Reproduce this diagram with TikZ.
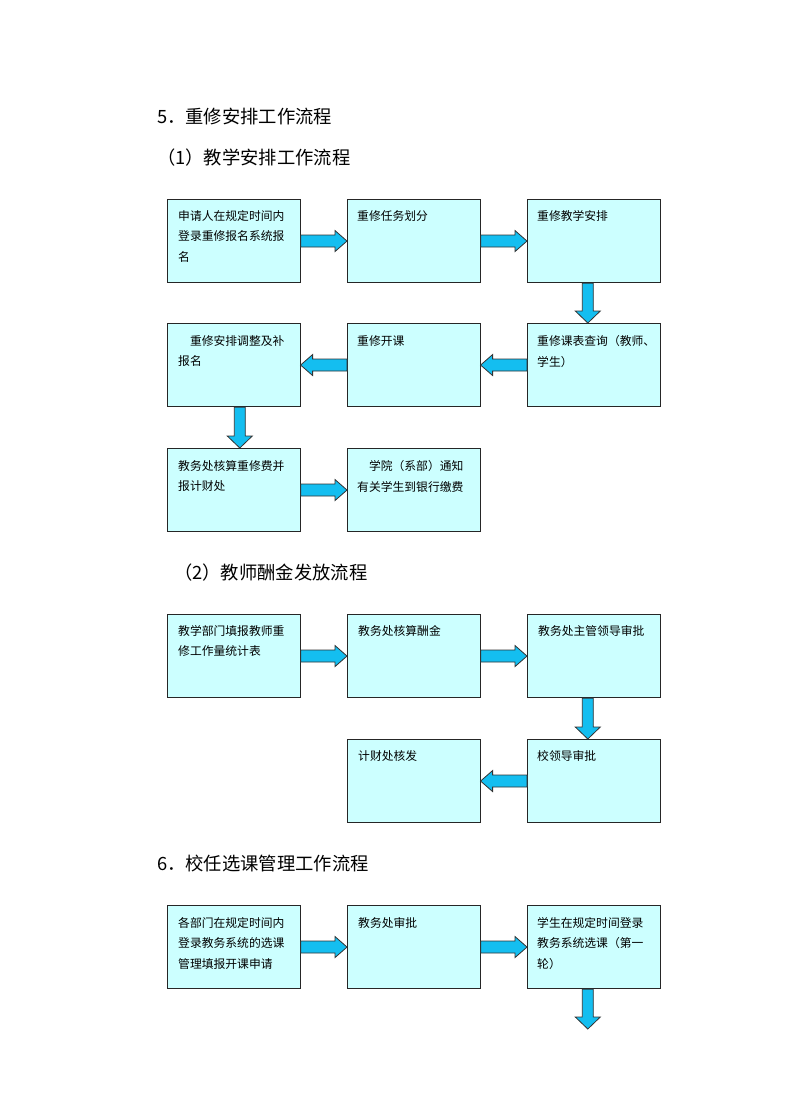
\documentclass[tikz,border=0pt]{standalone}
\usepackage{fontspec}
\newfontfamily\cjk{Noto Sans CJK SC}
\usetikzlibrary{calc}
\definecolor{boxfill}{RGB}{204,255,255}
\definecolor{arrfill}{RGB}{20,190,240}
\tikzset{
  box/.style={draw=black!85, line width=1.1pt, fill=boxfill, minimum width=132.5pt, minimum height=83pt, inner sep=0pt, anchor=north west},
  boxtxt/.style={anchor=north west, inner sep=0pt, align=left, font=\cjk\fontsize{11.8}{20.7}\selectfont},
  headtxt/.style={anchor=west, inner sep=0pt, font=\cjk\fontsize{18.3}{21}\selectfont},
  blk/.style={fill=arrfill, draw=black!80, line width=0.8pt, line join=miter},
}
\newcommand\blkright[2]{\path[blk] let \p1=(#1.east), \p2=(#2.west) in
  (\x1,\y1+6pt) -- (\x2-12pt,\y1+6pt) -- (\x2-12pt,\y1+10.5pt) -- (\x2,\y1) --
  (\x2-12pt,\y1-10.5pt) -- (\x2-12pt,\y1-6pt) -- (\x1,\y1-6pt) -- cycle;}
\newcommand\blkleft[2]{\path[blk] let \p1=(#1.west), \p2=(#2.east) in
  (\x1,\y1+6pt) -- (\x2+12pt,\y1+6pt) -- (\x2+12pt,\y1+10.5pt) -- (\x2,\y1) --
  (\x2+12pt,\y1-10.5pt) -- (\x2+12pt,\y1-6pt) -- (\x1,\y1-6pt) -- cycle;}
\newcommand\blkdown[3]{\path[blk] let \p1=(#1), \p2=(#2) in
  (\x1+#3-5.5pt,\y1) -- (\x1+#3-5.5pt,\y2+12pt) -- (\x1+#3-12.5pt,\y2+12pt) -- (\x1+#3,\y2) --
  (\x1+#3+12.5pt,\y2+12pt) -- (\x1+#3+5.5pt,\y2+12pt) -- (\x1+#3+5.5pt,\y1) -- cycle;}
\begin{document}
\begin{tikzpicture}[x=1pt,y=-1pt]
\useasboundingbox[fill=white] (0,0) rectangle (792,1120);
% headings
\node[headtxt] (h5) at (157,117) {5．重修安排工作流程};
\node[headtxt] (h51) at (157,158) {（1）教学安排工作流程};
\node[headtxt] (h52) at (174,573) {（2）教师酬金发放流程};
\node[headtxt] (h6) at (157,863) {6．校任选课管理工作流程};
% section 5 (1)
\node[box] (a1) at (167,199) {};
\node[box] (a2) at (347,199) {};
\node[box] (a3) at (527,199) {};
\node[box] (b1) at (167,323) {};
\node[box] (b2) at (347,323) {};
\node[box] (b3) at (527,323) {};
\node[box] (c1) at (167,448) {};
\node[box] (c2) at (347,448) {};
% section 5 (2)
\node[box] (d1) at (167,614) {};
\node[box] (d2) at (347,614) {};
\node[box] (d3) at (527,614) {};
\node[box] (e2) at (347,739) {};
\node[box] (e3) at (527,739) {};
% section 6
\node[box] (f1) at (167,905) {};
\node[box] (f2) at (347,905) {};
\node[box] (f3) at (527,905) {};
\coordinate (fend) at (587,1029);
% texts
\node[boxtxt] (a1t) at ($(a1.north west)+(11,11)$) {申请人在规定时间内\\登录重修报名系统报\\名};
\node[boxtxt] (a2t) at ($(a2.north west)+(10,11)$) {重修任务划分};
\node[boxtxt] (a3t) at ($(a3.north west)+(10,11)$) {重修教学安排};
\node[boxtxt] (b1t) at ($(b1.north west)+(11,12)$) {\hspace*{11.8pt}重修安排调整及补\\报名};
\node[boxtxt] (b2t) at ($(b2.north west)+(10,12)$) {重修开课};
\node[boxtxt] (b3t) at ($(b3.north west)+(10,12)$) {重修课表查询（教师、\\学生）};
\node[boxtxt] (c1t) at ($(c1.north west)+(11,12)$) {教务处核算重修费并\\报计财处};
\node[boxtxt] (c2t) at ($(c2.north west)+(10,12)$) {\hspace*{11.8pt}学院（系部）通知\\有关学生到银行缴费};
\node[boxtxt] (d1t) at ($(d1.north west)+(11,11)$) {教学部门填报教师重\\修工作量统计表};
\node[boxtxt] (d2t) at ($(d2.north west)+(11,11)$) {教务处核算酬金};
\node[boxtxt] (d3t) at ($(d3.north west)+(11,11)$) {教务处主管领导审批};
\node[boxtxt] (e2t) at ($(e2.north west)+(11,11)$) {计财处核发};
\node[boxtxt] (e3t) at ($(e3.north west)+(10,11)$) {校领导审批};
\node[boxtxt] (f1t) at ($(f1.north west)+(11,12)$) {各部门在规定时间内\\登录教务系统的选课\\管理填报开课申请};
\node[boxtxt] (f2t) at ($(f2.north west)+(11,12)$) {教务处审批};
\node[boxtxt] (f3t) at ($(f3.north west)+(10,12)$) {学生在规定时间登录\\教务系统选课（第一\\轮）};
% arrows
\blkright{a1}{a2}
\blkright{a2}{a3}
\blkdown{a3.south}{b3.north}{-6pt}
\blkleft{b3}{b2}
\blkleft{b2}{b1}
\blkdown{b1.south}{c1.north}{6pt}
\blkright{c1}{c2}
\blkright{d1}{d2}
\blkright{d2}{d3}
\blkdown{d3.south}{e3.north}{-6pt}
\blkleft{e3}{e2}
\blkright{f1}{f2}
\blkright{f2}{f3}
\blkdown{f3.south}{fend}{-6pt}
\end{tikzpicture}
\end{document}
